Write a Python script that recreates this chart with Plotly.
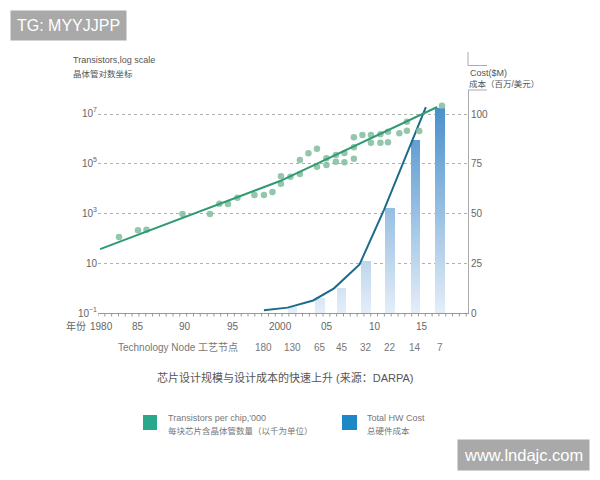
import plotly.graph_objects as go

# ---------------- data ----------------
dot_years = [1983.0, 1985.0, 1985.9, 1989.7, 1992.6, 1993.6, 1994.5, 1995.5, 1997.3, 1998.3,
             1999.2, 2000.1, 2000.1, 2001.1, 2002.1, 2002.1, 2003.0, 2003.9, 2003.9, 2004.9,
             2004.9, 2005.9, 2005.9, 2006.8, 2006.8, 2007.8, 2007.8, 2007.8, 2008.7, 2009.6,
             2009.6, 2010.6, 2010.6, 2011.4, 2011.4, 2012.6, 2013.4, 2013.4, 2014.7, 2017.1]
dot_transistors = [110, 204, 214, 912, 912, 2340, 2290, 4070, 5250, 5250,
                   6920, 29500, 14800, 28200, 132000, 36300, 245000, 372000, 70800, 155000,
                   83200, 209000, 112000, 251000, 107000, 1.07e6, 427000, 148000, 1.32e6, 1.32e6,
                   646000, 1.41e6, 646000, 1.78e6, 676000, 1.55e6, 4.47e6, 1.95e6, 1.91e6, 1.95e7]
trend_years = [1981.0, 2000.0, 2016.6]
trend_transistors = [36, 1.9e4, 1.74e7]

node_labels = ["180", "130", "65", "45", "32", "22", "14", "7"]
node_years = [1998.3, 2001.3, 2004.2, 2006.5, 2009.1, 2011.6, 2014.3, 2016.9]
bar_cost = [0, 3, 7.5, 12.5, 26, 53, 87, 103]

cost_years = [1998.3, 2000.8, 2003.5, 2005.7, 2008.4, 2011.0, 2015.4]
cost_values = [1.4, 2.7, 6.3, 12.4, 24.4, 52.1, 103.5]

year_tickvals = [1981.2, 1985, 1990, 1995, 2000, 2005, 2010, 2015]
year_ticktext = ["1980", "85", "90", "95", "2000", "05", "10", "15"]
log_tickvals = [0.1, 10, 1e3, 1e5, 1e7]
log_ticktext = ["10<sup>−1</sup>", "10", "10<sup>3</sup>", "10<sup>5</sup>", "10<sup>7</sup>"]
cost_tickvals = [0, 25, 50, 75, 100]

FONT = "Liberation Sans, Noto Sans CJK SC, sans-serif"
GRAY = "#666666"
X_RANGE = [1980.78, 2019.85]

fig = go.Figure()

# gradient bars (overlay bands, light at bottom to dark at top)
c0 = (228, 238, 248)
c1 = (72, 143, 204)
step = 2
top = 106
levels = list(range(step, top + step, step))
for L in reversed(levels):
    t = min(1.0, (L - step / 2) / 104)
    col = "rgb(%d,%d,%d)" % tuple(round(c0[i] + (c1[i] - c0[i]) * t) for i in range(3))
    fig.add_trace(go.Bar(
        x=node_years, y=[min(v, L) for v in bar_cost], width=1.0,
        marker=dict(color=col, line=dict(width=0)), yaxis="y",
        showlegend=False, hoverinfo="skip"))

fig.add_trace(go.Scatter(x=cost_years, y=cost_values, mode="lines", yaxis="y",
                         line=dict(color="#1d6b8c", width=2), showlegend=False))

fig.add_trace(go.Scatter(x=dot_years, y=dot_transistors, mode="markers", yaxis="y2",
                         marker=dict(color="rgba(128,188,156,0.85)", size=6.5), showlegend=False))
fig.add_trace(go.Scatter(x=trend_years, y=trend_transistors, mode="lines", yaxis="y2",
                         line=dict(color="#2f9a73", width=2), showlegend=False))

fig.update_layout(
    width=600, height=480,
    margin=dict(l=98, r=132, t=90, b=167),
    paper_bgcolor="white", plot_bgcolor="white",
    barmode="overlay", bargap=0,
    font=dict(family=FONT, color=GRAY, size=10),
    xaxis=dict(range=X_RANGE, showticklabels=False, ticks="",
               showgrid=False, zeroline=False, showline=True, linecolor="#999999", linewidth=1),
    yaxis=dict(range=[0, 112.06], side="right", tickvals=cost_tickvals,
               showgrid=True, gridcolor="#b0b0b0", griddash="3px,3px", gridwidth=1,
               zeroline=False, showline=True, linecolor="#aaaaaa", linewidth=1,
               ticks="", tickfont=dict(size=10, color=GRAY)),
    yaxis2=dict(type="log", range=[-1, 7.92], overlaying="y", side="left",
                tickvals=log_tickvals, ticktext=log_ticktext, showgrid=False,
                zeroline=False, showline=False, ticks="", tickfont=dict(size=10, color=GRAY)),
)

def px_x(p):
    return (p - 98) / 370
def px_y(p):
    return (313 - p) / 223

shapes = []
# small comb ticks along the x axis (decoration)
n_ticks = int((X_RANGE[1] - X_RANGE[0]) / 0.72) + 1
for k in range(n_ticks):
    xv = X_RANGE[0] + k * 0.72
    shapes.append(dict(type="line", xref="x", yref="paper", x0=xv, x1=xv, y0=0, y1=px_y(316.5),
                       line=dict(color="#999999", width=1)))
# decorative bracket at top of right axis
shapes.append(dict(type="line", xref="paper", yref="paper", x0=1, x1=1, y0=px_y(52), y1=px_y(65.5),
                   line=dict(color="#aaaaaa", width=1)))
shapes.append(dict(type="line", xref="paper", yref="paper", x0=1, x1=px_x(487), y0=px_y(65.5), y1=px_y(65.5),
                   line=dict(color="#aaaaaa", width=1)))
shapes.append(dict(type="line", xref="paper", yref="paper", x0=1, x1=px_x(487), y0=1, y1=1,
                   line=dict(color="#aaaaaa", width=1)))
# legend squares
shapes.append(dict(type="rect", xref="paper", yref="paper", x0=px_x(143), x1=px_x(157), y0=px_y(430), y1=px_y(415),
                   fillcolor="#2aa88c", line=dict(width=0)))
shapes.append(dict(type="rect", xref="paper", yref="paper", x0=px_x(342), x1=px_x(357), y0=px_y(430), y1=px_y(415),
                   fillcolor="#1e87c8", line=dict(width=0)))
fig.update_layout(shapes=shapes)

ann = []
def add_text(x, y, text, size=10, color=GRAY, xanchor="left", **kw):
    ann.append(dict(x=px_x(x), y=px_y(y), xref="paper", yref="paper", text=text, showarrow=False,
                    xanchor=xanchor, yanchor="middle", font=dict(size=size, color=color, family=FONT), **kw))

# year tick labels
for lab, yr in zip(year_ticktext, year_tickvals):
    ann.append(dict(x=yr, y=px_y(326), xref="x", yref="paper", text=lab, showarrow=False,
                    xanchor="center", yanchor="middle", font=dict(size=10, color=GRAY, family=FONT)))

add_text(71, 60, "Transistors,log scale", size=9, color="#555555")
add_text(71, 74, "晶体管对数坐标", size=8.5, color="#555555")
add_text(468, 73, "Cost($M)", size=9, color="#555555")
add_text(467, 84, "成本（百万/美元）", size=8.5, color="#555555")
add_text(88, 326, "年份", size=10, xanchor="right")
add_text(178, 347, "Technology Node 工艺节点", size=10, color="#777777", xanchor="center")
for lab, yr in zip(node_labels, node_years):
    ann.append(dict(x=yr, y=px_y(347), xref="x", yref="paper", text=lab, showarrow=False,
                    xanchor="center", yanchor="middle", font=dict(size=10, color="#777777", family=FONT)))
add_text(285, 377, "芯片设计规模与设计成本的快速上升 (来源：DARPA)", size=11, color="#555555", xanchor="center")
add_text(166, 418, "Transistors per chip,'000", size=9, color="#777777")
add_text(166, 431, "每块芯片含晶体管数量（以千为单位）", size=8.5, color="#777777")
add_text(365, 418, "Total HW Cost", size=9, color="#777777")
add_text(365, 431, "总硬件成本", size=8.5, color="#777777")
# watermarks
add_text(10, 25, "TG: MYYJJPP", size=16, color="white", bgcolor="#a9a9a9", borderpad=6)
add_text(590, 455, "www.lndajc.com", size=16.5, color="white", xanchor="right", bgcolor="#a9a9a9", borderpad=6)
fig.update_layout(annotations=ann)

fig.write_html("out.html", config={"displayModeBar": False},
               post_script="document.body.style.margin='0';document.body.style.padding='0';")
